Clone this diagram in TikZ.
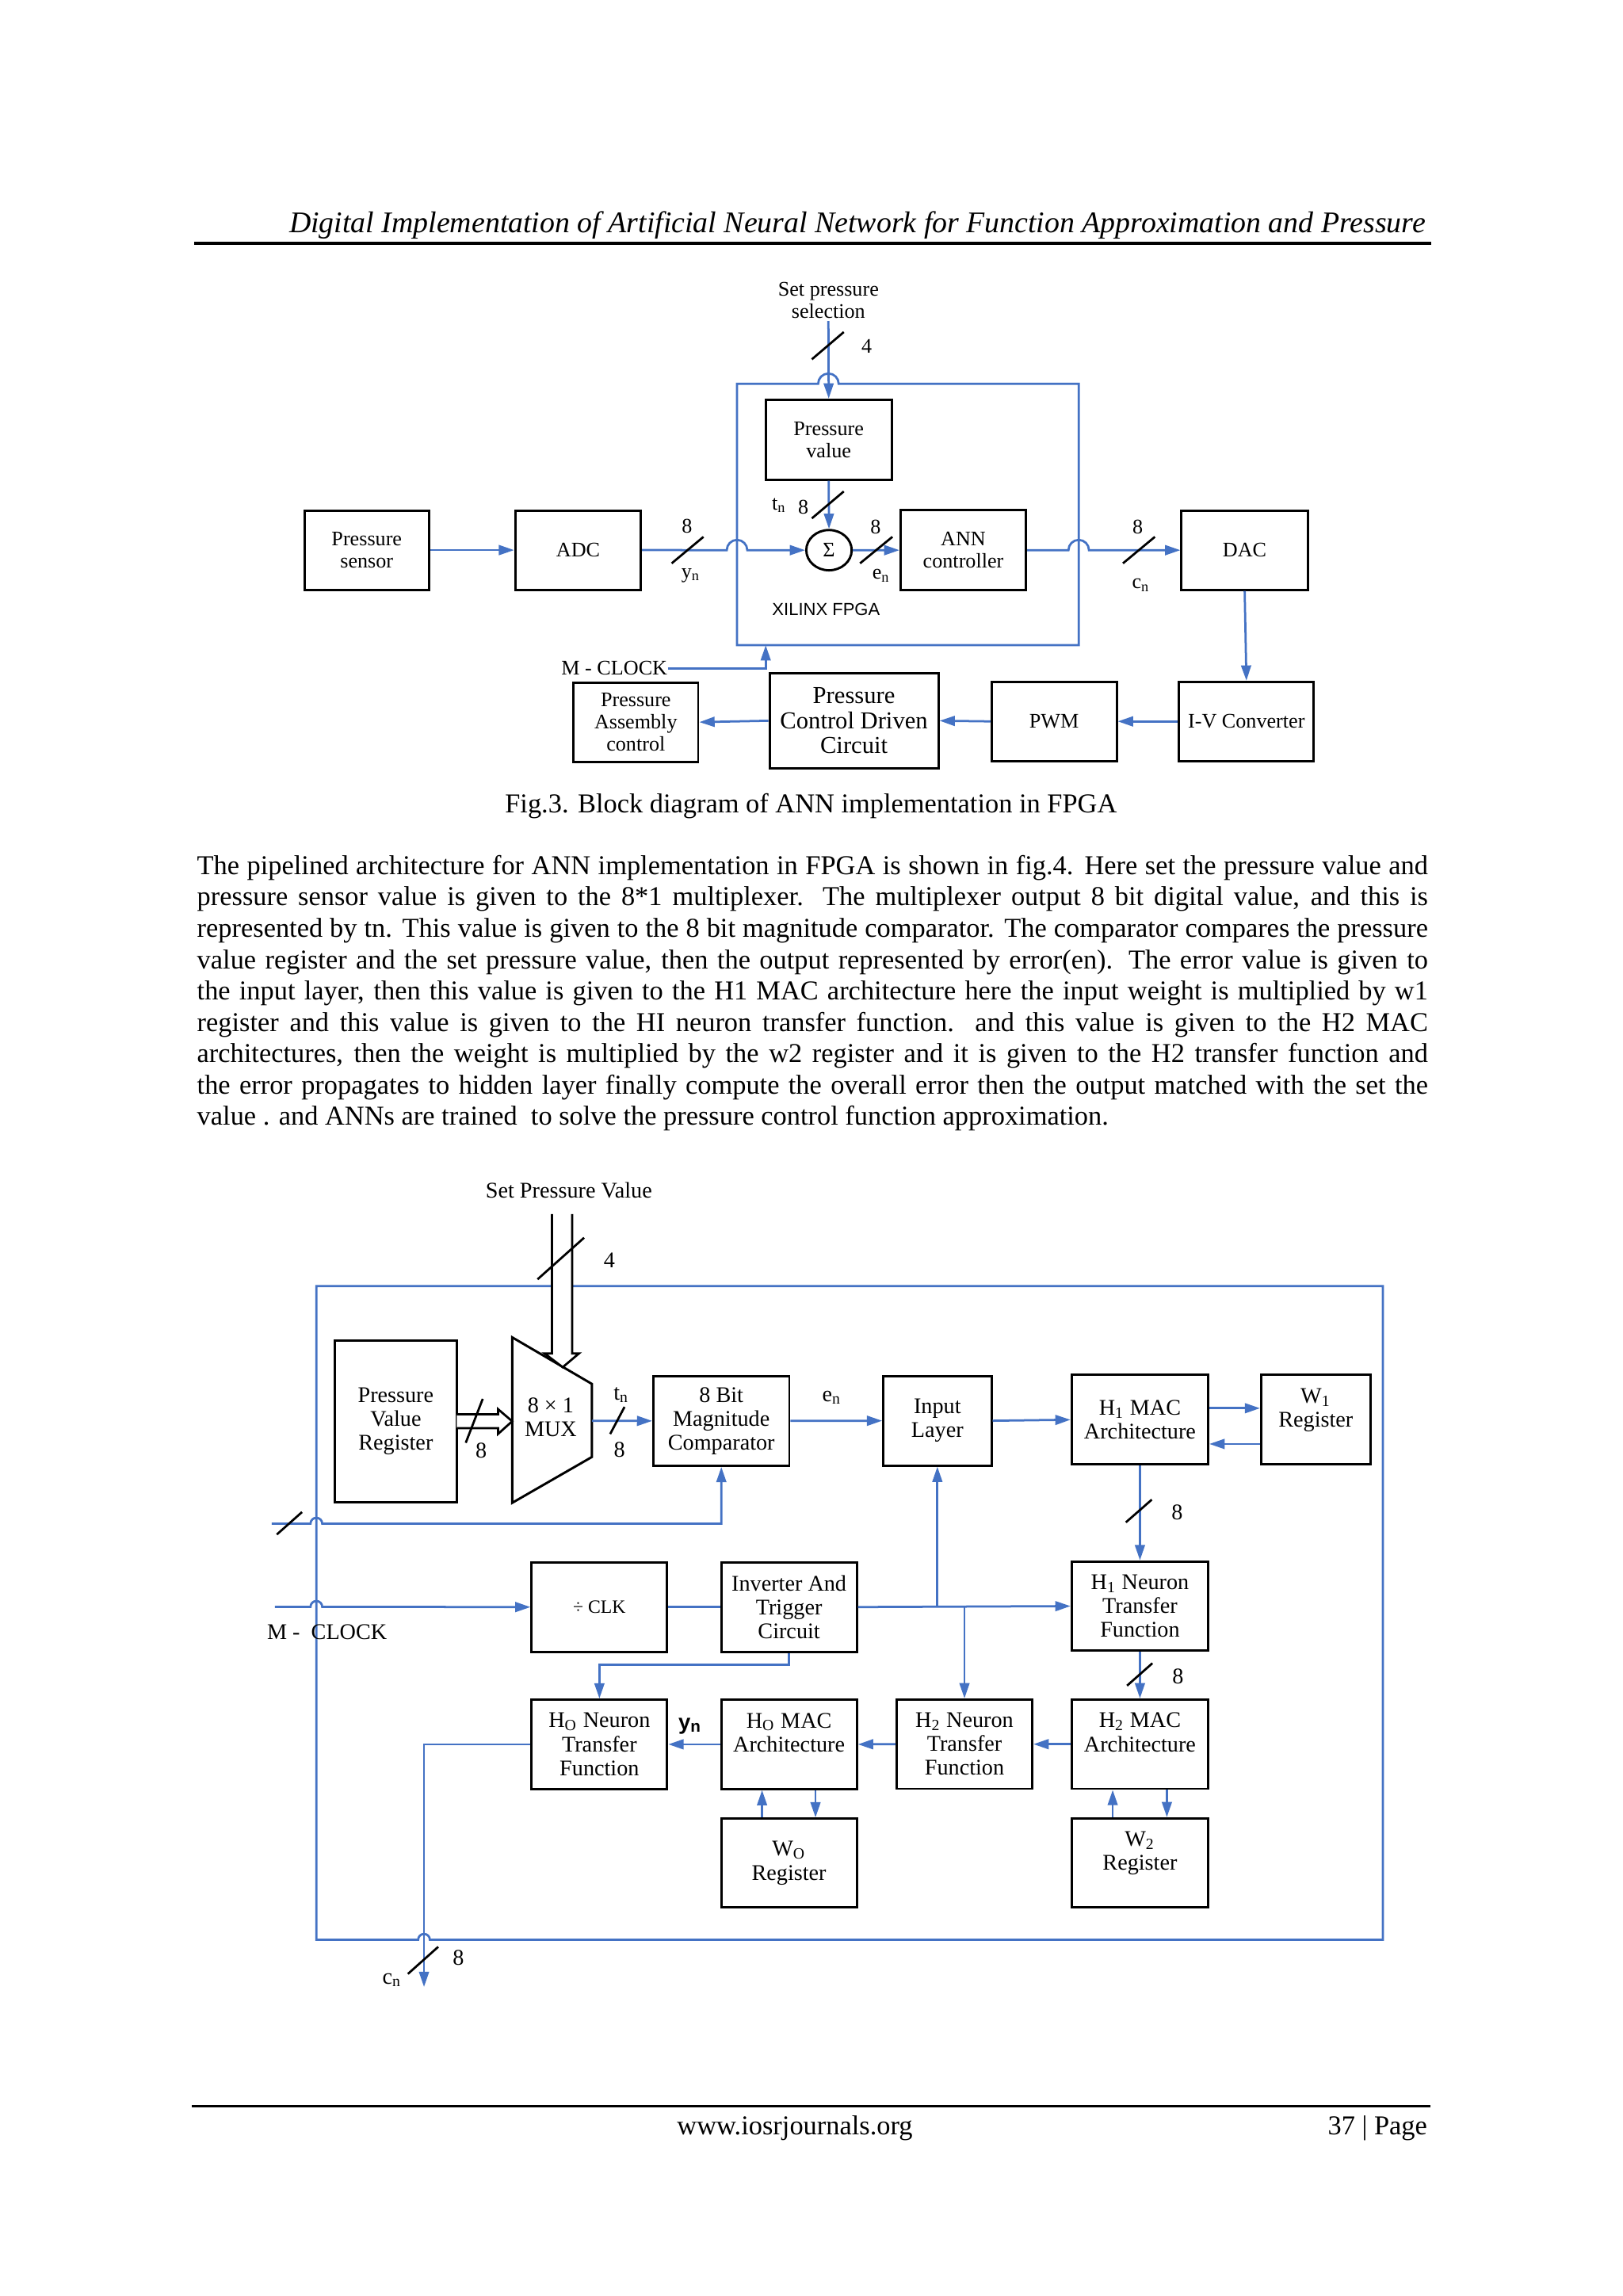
\documentclass[tikz,border=0pt]{standalone}
\usepackage{fontspec}
\setmainfont{Liberation Serif}
\newfontfamily\sansf{Liberation Sans}
\usetikzlibrary{arrows.meta,shapes.geometric}
\definecolor{lblue}{RGB}{68,114,196}
\def\uu{0.53726pt}
\newcommand\figiiifont{\fontsize{7.6}{8.1}\selectfont}
\newcommand\figivfont{\fontsize{8.2}{8.75}\selectfont}
\newcommand\mybox[7][]{\node[box,#1,minimum width={(#5-#3)*\uu},minimum height={(#6-#4)*\uu}] (#2) at ({(#3+#5)/2},{(#4+#6)/2}) {#7};}
\begin{document}
\begin{tikzpicture}[x=0.53726pt, y=-0.53726pt,
  box/.style={draw=black, line width=0.85pt, inner sep=0pt, align=center},
  bline/.style={draw=lblue, line width=0.8pt},
  barrow/.style={bline, -{Triangle[length=5.6pt,width=3.6pt]}},
  slash/.style={draw=black, line width=0.8pt},
  lab/.style={inner sep=0pt, align=center},
  dbl/.style={draw=black, line width=0.8pt, fill=white, line join=miter},
  para/.style={anchor=base west, inner sep=0pt, font=\fontsize{10}{11.5}\selectfont}]
\fill[white] (0,0) rectangle (1108,1567.5);
\useasboundingbox (0,0) rectangle (1108,1567.5);

% ---------- header ----------
\node[anchor=base east, inner sep=0pt, font=\fontsize{11}{13}\selectfont\itshape] (title) at (973.6,158.7) {Digital Implementation of Artificial Neural Network for Function Approximation and Pressure};
\draw[line width=1pt] (132.6,166) -- (977.3,166);

% ---------- Fig. 3 ----------
\begin{scope}[font=\figiiifont]
\node[lab] (sps) at (565.6,205) {Set pressure\\selection};
\coordinate (spsb) at (565.6,219.2);
\mybox{psens}{207.8}{348.5}{293}{402.6}{Pressure\\sensor}
\mybox{adc}{351.8}{348.5}{437.6}{402.6}{ADC}
\mybox{pval}{522.8}{272.9}{608.8}{327.4}{Pressure\\value}
\node[box, ellipse, minimum width=31*\uu, minimum height=27.5*\uu] (sigma) at (566,375.6) {Σ};
\mybox{ann}{614.9}{348.3}{700.5}{402.9}{ANN\\controller}
\mybox{dac}{806.7}{348.6}{892.9}{402.6}{DAC}
\mybox{pac}{391.5}{466}{476.7}{520}{Pressure\\Assembly\\control}
\mybox[font=\fontsize{8.9}{9.1}\selectfont]{pcdc}{525.4}{459.6}{640.7}{524.5}{Pressure\\Control Driven\\Circuit}
\mybox{pwm}{677}{465.5}{762.4}{519.5}{PWM}
\mybox{iv}{805}{465.5}{897}{519.5}{I-V Converter}

\draw[bline] (503.2,262) -- (558.6,262) arc[start angle=180,end angle=0,radius=7*\uu] -- (736.5,262) -- (736.5,440.5) -- (503.2,440.5) -- cycle;
\node[lab, font=\sansf\fontsize{6.4}{7}\selectfont] (xil) at (564,416) {XILINX FPGA};

\draw[barrow] (spsb) -- (pval.north);
\draw[barrow] (pval.south) -- (sigma.north);
\draw[barrow] (psens.east) -- (adc.west);
\draw[barrow] (adc.east) -- (496.2,375.6) arc[start angle=180,end angle=0,radius=7*\uu] -- (sigma.west);
\draw[barrow] (sigma.east) -- (ann.west);
\draw[barrow] (ann.east) -- (729.5,375.6) arc[start angle=180,end angle=0,radius=7*\uu] -- (dac.west);
\draw[barrow] (dac.south) -- (iv.north);
\draw[barrow] (iv.west) -- (pwm.east);
\draw[barrow] (pwm.west) -- (pcdc.east);
\draw[barrow] (pcdc.west) -- (pac.east);

\node[lab, anchor=east] (mclk) at (456,456.2) {M - CLOCK};
\coordinate (mck) at (522.8,456.2);
\coordinate (fpgab) at (522.8,440.5);
\draw[barrow] (mclk.east) -- (mck) -- (fpgab);

\draw[slash] (554.3,245.3) -- (576.1,226.7);
\node[lab] (l4a) at (591.8,236.6) {4};
\draw[slash] (554.3,353.9) -- (576.1,335.5);
\node[lab] (ltn) at (532,345) {t\textsubscript{n}};
\node[lab] (l8a) at (548.5,346.3) {8};
\draw[slash] (458.6,384.6) -- (480.3,366.5);
\node[lab] (l8b) at (469,359) {8};
\node[lab] (lyn) at (471.7,393) {y\textsubscript{n}};
\draw[slash] (587.2,384.6) -- (609.3,366.5);
\node[lab] (l8c) at (597.8,360) {8};
\node[lab] (len) at (601.7,393) {e\textsubscript{n}};
\draw[slash] (766.7,384.6) -- (788.5,366.5);
\node[lab] (l8d) at (776.8,360) {8};
\node[lab] (lcn) at (779,399.5) {c\textsubscript{n}};
\end{scope}

\node[anchor=base, inner sep=0pt, font=\fontsize{10}{12}\selectfont] (cap3) at (553.7,555) {Fig.3. Block diagram of ANN implementation in FPGA};

% ---------- paragraph ----------
\node[para] (p1) at (134.2,597) {\makebox[451.5pt][s]{The pipelined architecture for ANN implementation in FPGA is shown in fig.4. Here set the pressure value and}};
\node[para] (p2) at (134.2,618.4) {\makebox[451.5pt][s]{pressure sensor value is given to the 8*1 multiplexer. The multiplexer output 8 bit digital value, and this is}};
\node[para] (p3) at (134.2,639.8) {\makebox[451.5pt][s]{represented by tn. This value is given to the 8 bit magnitude comparator. The comparator compares the pressure}};
\node[para] (p4) at (134.2,661.2) {\makebox[451.5pt][s]{value register and the set pressure value, then the output represented by error(en). The error value is given to}};
\node[para] (p5) at (134.2,682.6) {\makebox[451.5pt][s]{the input layer, then this value is given to the H1 MAC architecture here the input weight is multiplied by w1}};
\node[para] (p6) at (134.2,704) {\makebox[451.5pt][s]{register and this value is given to the HI neuron transfer function. and this value is given to the H2 MAC}};
\node[para] (p7) at (134.2,725.4) {\makebox[451.5pt][s]{architectures, then the weight is multiplied by the w2 register and it is given to the H2 transfer function and}};
\node[para] (p8) at (134.2,746.8) {\makebox[451.5pt][s]{the error propagates to hidden layer finally compute the overall error then the output matched with the set the}};
\node[para] (p9) at (134.2,768.2) {value . and ANNs are trained\ \ to solve the pressure control function approximation.};

% ---------- Fig. 4 ----------
\begin{scope}[font=\figivfont]
\node[lab] (spv) at (388.4,812.6) {Set Pressure Value};
\draw[bline] (216,878) -- (944.2,878) -- (944.2,1324.3) -- (293.5,1324.3) arc[start angle=0,end angle=180,radius=4*\uu] -- (216,1324.3) -- cycle;

\mybox{pvr}{228.5}{915.4}{311.9}{1025.4}{Pressure\\Value\\Register}
\draw[line width=0.85pt] (349.7,913) -- (404.1,944.8) -- (404.1,994.7) -- (349.7,1026) -- cycle;
\node[lab] (mux) at (376,967.5) {8 × 1\\MUX};
\mybox{cmp}{446.1}{939.4}{538.9}{1000.7}{8 Bit\\Magnitude\\Comparator}
\mybox{inl}{603.1}{939.4}{676.9}{1000.5}{Input\\Layer}
\mybox{h1mac}{731.7}{938.7}{824.9}{999.8}{H\textsubscript{1} MAC\\Architecture}
\mybox{w1}{861.1}{938.7}{935.6}{999.8}{W\textsubscript{1}\\Register\\\mbox{}}
\mybox[font=\fontsize{6.9}{8}\selectfont]{clk}{363}{1066.6}{455.5}{1127.7}{÷ CLK}
\mybox{inv}{492.4}{1066.6}{585}{1127.7}{Inverter And\\Trigger\\Circuit}
\mybox{h1n}{731.7}{1066}{824.9}{1127}{H\textsubscript{1} Neuron\\Transfer\\Function}
\mybox{hon}{363}{1160.4}{455.5}{1221.3}{H\textsubscript{O} Neuron\\Transfer\\Function}
\mybox{homac}{492.4}{1160.4}{585}{1221.3}{H\textsubscript{O} MAC\\Architecture\\\mbox{}}
\mybox{h2n}{612.2}{1160.3}{704.8}{1221.2}{H\textsubscript{2} Neuron\\Transfer\\Function}
\mybox{h2mac}{731.7}{1160.3}{824.9}{1221.2}{H\textsubscript{2} MAC\\Architecture\\\mbox{}}
\mybox{wo}{492.4}{1241.6}{585}{1302.3}{W\textsubscript{O}\\Register}
\mybox{w2}{731.7}{1241.4}{824.9}{1302.3}{W\textsubscript{2}\\Register\\\mbox{}}

% double (bus) arrows
\draw[dbl] (376.8,828.8) -- (376.8,924) -- (371.8,924) -- (384.2,933.4) -- (395.3,924) -- (390.6,924) -- (390.6,828.8);
\draw[slash] (367,873.4) -- (398.8,845);
\node[lab] (l4b) at (416,860.4) {4};
\draw[dbl] (311.9,965.5) -- (340,965.5) -- (340,962) -- (349.7,970.3) -- (340,979) -- (340,975) -- (311.9,975);
\draw[slash] (318,985) -- (329.6,955);
\node[lab] (l8e) at (328.5,990.3) {8};

% connectors
\coordinate (muxo) at (404.1,970);
\draw[barrow] (muxo) -- (cmp.west);
\draw[slash] (416.6,979) -- (426.4,960.5);
\node[lab] (ltn4) at (424.2,952.4) {t\textsubscript{n}};
\node[lab] (l8f) at (422.9,989.9) {8};
\draw[barrow] (cmp.east) -- (inl.west);
\node[lab] (len4) at (567.9,954.2) {e\textsubscript{n}};
\draw[barrow] (inl.east) -- (h1mac.west);
\coordinate (ya) at (0,961.4);
\coordinate (yb) at (0,985.8);
\draw[barrow] (h1mac.east |- ya) -- (w1.west |- ya);
\draw[barrow] (w1.west |- yb) -- (h1mac.east |- yb);
\draw[barrow] (h1mac.south) -- (h1n.north);
\draw[slash] (768.7,1039.3) -- (786.4,1023.8);
\node[lab] (l8g) at (803.7,1032.6) {8};
\draw[barrow] (h1n.south) -- (h2mac.north);
\draw[slash] (769.5,1150.8) -- (786.8,1135.5);
\node[lab] (l8h) at (804.2,1144.5) {8};

\coordinate (sin) at (185.5,1040.2);
\draw[barrow] (sin) -- (212,1040.2) arc[start angle=180,end angle=0,radius=4*\uu] -| (cmp.south);
\draw[slash] (189,1047.6) -- (206.2,1032.3);

\node[lab, anchor=west] (mc4) at (182,1114) {M -\ \ CLOCK};
\coordinate (mcin) at (187.7,1097);
\draw[barrow] (mcin) -- (212,1097) arc[start angle=180,end angle=0,radius=4*\uu] -- (clk.west);
\draw[bline] (clk.east) -- (inv.west);
\draw[barrow] (inv.east) -- (h1n.west);
\coordinate (j1) at (640,1097);
\coordinate (j2) at (658.5,1097);
\draw[barrow] (j1) -- (inl.south);
\draw[barrow] (j2) -- (h2n.north);
\coordinate (t1) at (409.25,1136.6);
\draw[barrow] (inv.south) |- (t1) -- (hon.north);

\draw[barrow] (homac.west) -- (hon.east);
\node[lab, font=\sansf\bfseries\fontsize{8}{9}\selectfont] (lyn4) at (471.2,1178.4) {y\textsubscript{n}};
\draw[barrow] (h2n.west) -- (homac.east);
\draw[barrow] (h2mac.west) -- (h2n.east);
\coordinate (xa) at (520.3,0);
\coordinate (xb) at (556.8,0);
\coordinate (xc) at (759.7,0);
\coordinate (xd) at (796.7,0);
\draw[barrow] (wo.north -| xa) -- (homac.south -| xa);
\draw[barrow] (homac.south -| xb) -- (wo.north -| xb);
\draw[barrow] (w2.north -| xc) -- (h2mac.south -| xc);
\draw[barrow] (h2mac.south -| xd) -- (w2.north -| xd);

\coordinate (cout) at (289.5,1356.5);
\draw[barrow] (hon.west) -| (cout);
\draw[slash] (278.5,1347.6) -- (299.2,1329.1);
\node[lab] (l8i) at (313,1336.8) {8};
\node[lab] (lcn4) at (267.7,1351.7) {c\textsubscript{n}};
\end{scope}

% ---------- footer ----------
\draw[line width=1pt] (131,1437.9) -- (976.5,1437.9);
\node[anchor=base, inner sep=0pt, font=\fontsize{10}{12}\selectfont] (web) at (542.7,1457.4) {www.iosrjournals.org};
\node[anchor=base east, inner sep=0pt, font=\fontsize{10}{12}\selectfont] (pg) at (974.8,1457.4) {37 | Page};
\end{tikzpicture}
\end{document}
